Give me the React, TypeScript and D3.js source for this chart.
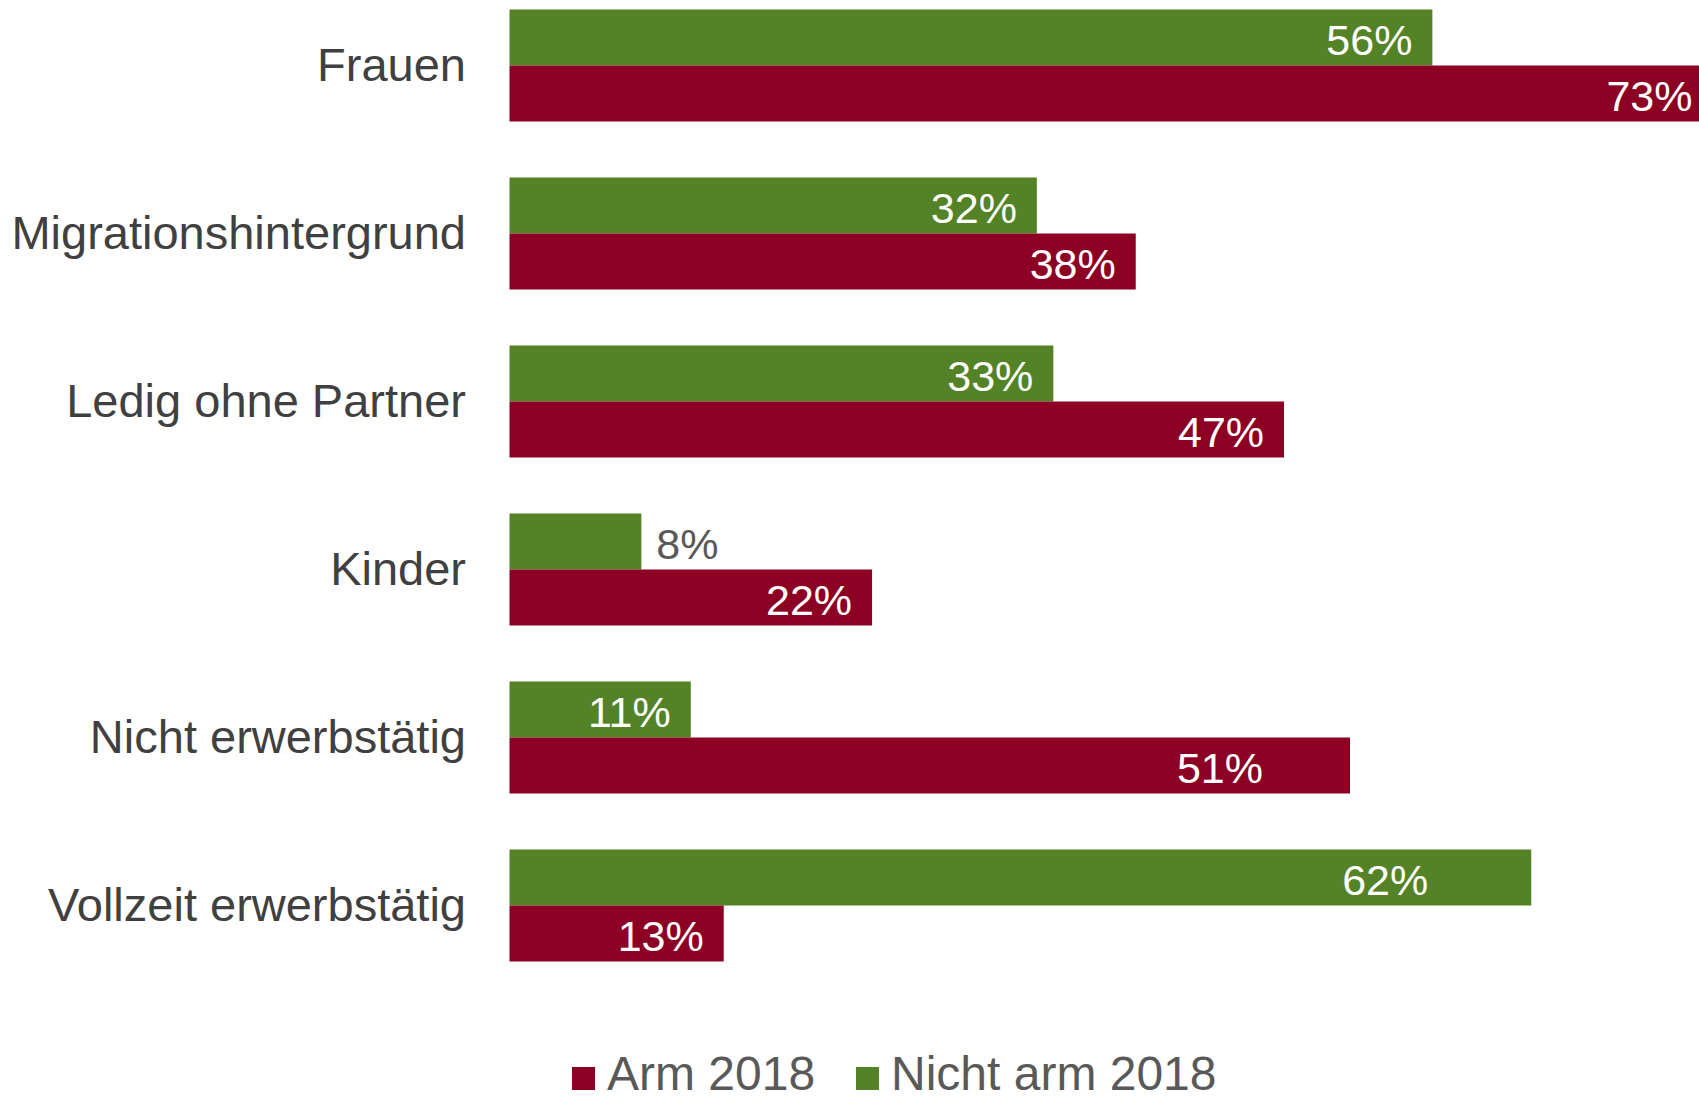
import React from "react";
import * as d3 from "d3";

// categories, top to bottom
const categories = [
  "Frauen",
  "Migrationshintergrund",
  "Ledig ohne Partner",
  "Kinder",
  "Nicht erwerbstätig",
  "Vollzeit erwerbstätig",
];

const nichtArm2018 = [56, 32, 33, 8, 11, 62];
const arm2018 = [73, 38, 47, 22, 51, 13];

const seriesKeys = ["nichtArm", "arm"];
const legendLabels = ["Arm 2018", "Nicht arm 2018"];

const RED = "#8c0023";
const GREEN = "#548226";

// a couple of labels were dragged left by hand in the original
const labelNudge: Record<string, number> = {
  "nichtArm-Vollzeit erwerbstätig": -83,
  "arm-Nicht erwerbstätig": -67,
};

const W = 1699;
const H = 1099;
const FONT = "'Liberation Sans', Arial, sans-serif";

export default function App() {
  const x = d3.scaleLinear().domain([0, 100]).range([509.5, 2157.5]);
  const y = d3
    .scaleBand()
    .domain(categories)
    .range([9.5, 961.5])
    .paddingInner(1 / 3)
    .paddingOuter(0);
  const ySub = d3
    .scaleBand()
    .domain(seriesKeys)
    .range([0, y.bandwidth()]);

  const rows = categories.map((c, i) => ({
    cat: c,
    values: { nichtArm: nichtArm2018[i], arm: arm2018[i] } as Record<string, number>,
  }));

  const color = (k: string) => (k === "arm" ? RED : GREEN);

  return (
    <svg
      width={W}
      height={H}
      style={{ position: "absolute", left: 0, top: 0, background: "#fff" }}
      fontFamily={FONT}
    >
      {rows.map((r) => (
        <g key={r.cat} transform={`translate(0,${y(r.cat)})`}>
          <text
            x={466}
            y={y.bandwidth() / 2}
            textAnchor="end"
            dy="0.34em"
            fontSize={47}
            fill="#404040"
          >
            {r.cat}
          </text>
          {seriesKeys.map((k) => {
            const v = r.values[k];
            const x1 = x(v);
            const inside = v >= 10;
            const nudge = labelNudge[`${k}-${r.cat}`] || 0;
            return (
              <g key={k}>
                <rect
                  x={x(0)}
                  y={ySub(k)}
                  width={x1 - x(0)}
                  height={ySub.bandwidth()}
                  fill={color(k)}
                />
                <text
                  x={inside ? x1 - 20 + nudge : x1 + 15}
                  y={(ySub(k) as number) + ySub.bandwidth() / 2}
                  dy="0.4em"
                  textAnchor={inside ? "end" : "start"}
                  fontSize={43}
                  fill={inside ? "#ffffff" : "#595959"}
                >
                  {v}%
                </text>
              </g>
            );
          })}
        </g>
      ))}

      {/* legend */}
      <g fontSize={48} fill="#595959">
        <rect x={572} y={1067} width={23} height={23} fill={RED} />
        <text x={607} y={1073} dy="0.35em">
          {legendLabels[0]}
        </text>
        <rect x={856} y={1067} width={23} height={23} fill={GREEN} />
        <text x={891} y={1073} dy="0.35em">
          {legendLabels[1]}
        </text>
      </g>
    </svg>
  );
}
